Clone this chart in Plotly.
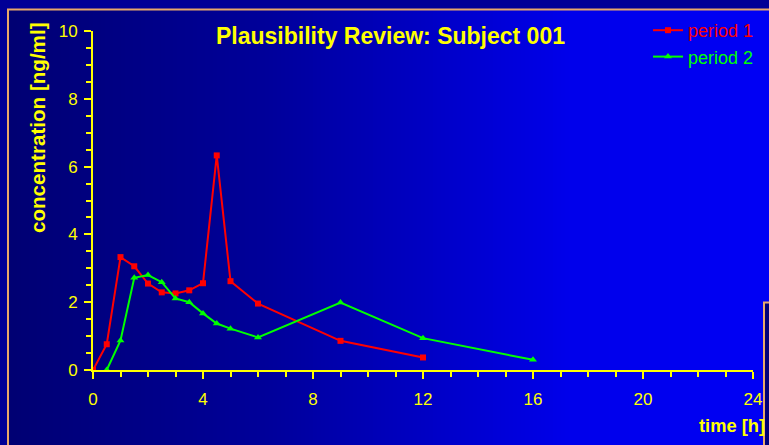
import plotly.graph_objects as go
import numpy as np

# ---- data ----
t1 = [0, 0.5, 1, 1.5, 2, 2.5, 3, 3.5, 4, 4.5, 5, 6, 9, 12]
c1 = [0, 0.76, 3.33, 3.06, 2.55, 2.29, 2.26, 2.35, 2.56, 6.33, 2.62, 1.96, 0.86, 0.37]
t2 = [0.5, 1, 1.5, 2, 2.5, 3, 3.5, 4, 4.5, 5, 6, 9, 12, 16]
c2 = [0, 0.87, 2.72, 2.80, 2.59, 2.11, 2.0, 1.67, 1.37, 1.22, 0.96, 1.99, 0.94, 0.30]
x_ticks = [0, 4, 8, 12, 16, 20, 24]
y_ticks = [0, 2, 4, 6, 8, 10]

W, H = 769, 445
L, R, T, B = 93, 16, 31, 75
PW, PH = W - L - R, H - T - B

def px(x):
    return (x - L) / PW

def py(y):
    return (H - B - y) / PH

FONT = "Arial, Liberation Sans, sans-serif"
YEL = "#FFFF00"
TAN = "#E8A86A"

fig = go.Figure()
fig.add_trace(go.Scatter(x=t1, y=c1, name="<span style='color:#FF0000'>period 1</span>",
                         mode="lines+markers",
                         line=dict(color="#FF0000", width=2),
                         marker=dict(symbol="square", size=6, color="#FF0000")))
fig.add_trace(go.Scatter(x=t2, y=c2, name="<span style='color:#00FF00'>period 2</span>",
                         mode="lines+markers",
                         line=dict(color="#00FF00", width=2),
                         marker=dict(symbol="triangle-up", size=7, color="#00FF00")))

# gradient background strips
anchors_x = [9, 270, 420, 570, 769]
anchors_b = [115, 155, 195, 235, 245]
shapes = []
step = 4
for x0 in range(9, 773, step):
    b = int(np.interp(x0 + step / 2, anchors_x, anchors_b))
    shapes.append(dict(type="rect", xref="paper", yref="paper", layer="below",
                       x0=px(x0), x1=px(x0 + step + 0.6), y0=py(460), y1=py(10),
                       fillcolor=f"rgb(0,0,{b})", line=dict(width=0)))
shapes.append(dict(type="rect", xref="paper", yref="paper", layer="below",
                   x0=px(8), x1=px(820), y0=py(470), y1=py(9.5),
                   fillcolor="rgba(0,0,0,0)", line=dict(color=TAN, width=2)))
# second (overlapping) frame at bottom-right
shapes.append(dict(type="rect", xref="paper", yref="paper", layer="above",
                   x0=px(764), x1=px(820), y0=py(470), y1=py(302.5),
                   fillcolor="#000078", line=dict(color=TAN, width=2)))

annotations = [
    dict(text="Plausibility Review: Subject 001", xref="paper", yref="paper",
         x=px(390), y=py(36), xanchor="center", yanchor="middle", showarrow=False,
         font=dict(family=FONT, size=23, color=YEL, weight="bold")),
    dict(text="concentration [ng/ml]", xref="paper", yref="paper",
         x=px(37), y=py(128), xanchor="center", yanchor="middle", showarrow=False,
         textangle=-90, font=dict(family=FONT, size=20.6, color=YEL, weight="bold")),
    dict(text="time [h]", xref="paper", yref="paper",
         x=px(697), y=py(425), xanchor="left", yanchor="middle", showarrow=False,
         font=dict(family=FONT, size=18.3, color=YEL, weight="bold")),
]

axis_common = dict(showline=True, linecolor=YEL, linewidth=2, showgrid=False,
                   zeroline=False, ticks="outside", tickcolor=YEL, tickwidth=2,
                   ticklen=7, tickfont=dict(family=FONT, size=17, color=YEL))

fig.update_layout(
    width=W, height=H,
    margin=dict(l=L, r=R, t=T, b=B, autoexpand=False),
    paper_bgcolor="#000096", plot_bgcolor="rgba(0,0,0,0)",
    shapes=shapes, annotations=annotations,
    showlegend=True,
    legend=dict(x=px(648), y=py(12), xanchor="left", yanchor="top",
                bgcolor="rgba(0,0,0,0)", traceorder="normal",
                font=dict(family=FONT, size=18, color=YEL)),
    xaxis=dict(range=[0, 24], tickvals=x_ticks, ticklabelstandoff=6, **axis_common,
               minor=dict(dtick=1, ticklen=5, tickcolor=YEL, tickwidth=2, ticks="outside")),
    yaxis=dict(range=[0, 10], tickvals=y_ticks, ticklabelstandoff=3, **axis_common,
               minor=dict(dtick=0.5, ticklen=5, tickcolor=YEL, tickwidth=2, ticks="outside")),
)

fig.write_html("out.html", config={"displayModeBar": False},
               post_script="document.body.style.margin='0';document.body.style.background='#000096';")
